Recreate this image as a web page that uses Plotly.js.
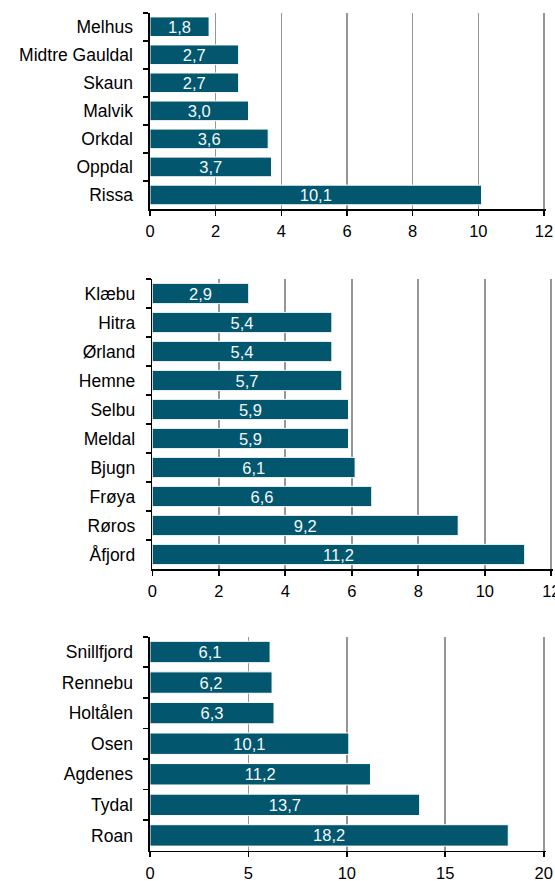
<!DOCTYPE html>
<html>
<head>
<meta charset="utf-8">
<script src="https://cdn.plot.ly/plotly-3.0.1.min.js"></script>
<style>
  html, body { margin: 0; padding: 0; background: #fff; }
  #chart { width: 555px; height: 881px; }
</style>
</head>
<body>
<div id="chart"></div>
<script>
const cat1 = ['Melhus', 'Midtre Gauldal', 'Skaun', 'Malvik', 'Orkdal', 'Oppdal', 'Rissa'];
const val1 = [1.8, 2.7, 2.7, 3.0, 3.6, 3.7, 10.1];

const cat2 = ['Klæbu', 'Hitra', 'Ørland', 'Hemne', 'Selbu', 'Meldal', 'Bjugn', 'Frøya', 'Røros', 'Åfjord'];
const val2 = [2.9, 5.4, 5.4, 5.7, 5.9, 5.9, 6.1, 6.6, 9.2, 11.2];

const cat3 = ['Snillfjord', 'Rennebu', 'Holtålen', 'Osen', 'Agdenes', 'Tydal', 'Roan'];
const val3 = [6.1, 6.2, 6.3, 10.1, 11.2, 13.7, 18.2];

const xTicks1 = [0, 2, 4, 6, 8, 10, 12];
const xTicks2 = [0, 2, 4, 6, 8, 10, 12];
const xTicks3 = [0, 5, 10, 15, 20];

const W = 555, H = 881;
const FONT = 'Liberation Sans, Arial, sans-serif';
const FS_NUM = 16.5;
const FS_CAT = 17.5;
const BAR = '#02566e';

function barTrace(cats, vals, xa, ya) {
  return {
    type: 'bar', orientation: 'h',
    y: cats, x: vals, xaxis: xa, yaxis: ya,
    marker: { color: BAR, line: { color: '#ffffff', width: 1 } },
    texttemplate: '%{x:.1f}',
    textposition: 'inside',
    insidetextanchor: 'middle',
    constraintext: 'none',
    textfont: { color: '#f4f8fa', size: FS_NUM, family: FONT },
    hoverinfo: 'none',
    cliponaxis: false
  };
}

// x0Px: pixel of value 0, xMaxPx: pixel of the last tick; a small extra range
// keeps the last gridline from being clipped at the plot edge.
function xAxis(x0Px, xMaxPx, ticks, anchor) {
  const vmax = ticks[ticks.length - 1];
  const extra = vmax * 0.005 + 0.0;
  const endPx = x0Px + (xMaxPx - x0Px) * (vmax + extra) / vmax;
  return {
    domain: [x0Px / W, Math.min(endPx / W, 1)],
    anchor: anchor,
    range: [ticks[0], vmax + extra],
    tickvals: ticks,
    ticktext: ticks.map(String),
    showgrid: true, gridcolor: '#959595', gridwidth: 1.6,
    zeroline: false,
    showline: true, linecolor: '#000000', linewidth: 1.6,
    ticks: 'outside', ticklen: 5, tickwidth: 1.6, tickcolor: '#000000',
    ticklabelstandoff: 2,
    ticklabeloverflow: 'allow',
    tickfont: { size: FS_NUM, color: '#000000', family: FONT },
    fixedrange: true
  };
}

function yAxis(domainPy, anchor) {
  return {
    domain: [1 - domainPy[1] / H, 1 - domainPy[0] / H],
    anchor: anchor,
    type: 'category',
    autorange: 'reversed',
    showgrid: false, zeroline: false,
    showline: true, linecolor: '#000000', linewidth: 1.6,
    ticks: 'outside', ticklen: 5, tickwidth: 1.6, tickcolor: '#000000',
    tickson: 'boundaries',
    ticklabelstandoff: 12,
    tickfont: { size: FS_CAT, color: '#000000', family: FONT },
    fixedrange: true
  };
}

const data = [
  barTrace(cat1, val1, 'x', 'y'),
  barTrace(cat2, val2, 'x2', 'y2'),
  barTrace(cat3, val3, 'x3', 'y3')
];

const layout = {
  width: W, height: H,
  margin: { l: 0, r: 0, t: 0, b: 0, pad: 0 },
  paper_bgcolor: '#ffffff', plot_bgcolor: '#ffffff',
  separators: ',.',
  showlegend: false,
  bargap: 0.3,
  font: { family: FONT, size: FS_NUM, color: '#000000' },
  xaxis: xAxis(150, 544, xTicks1, 'y'),
  yaxis: yAxis([12.7, 209], 'x'),
  xaxis2: xAxis(152.3, 551.3, xTicks2, 'y2'),
  yaxis2: yAxis([279, 569], 'x2'),
  xaxis3: xAxis(150, 543.7, xTicks3, 'y3'),
  yaxis3: yAxis([636.7, 850.7], 'x3')
};

Plotly.newPlot('chart', data, layout, { displayModeBar: false, staticPlot: true });
</script>
</body>
</html>
